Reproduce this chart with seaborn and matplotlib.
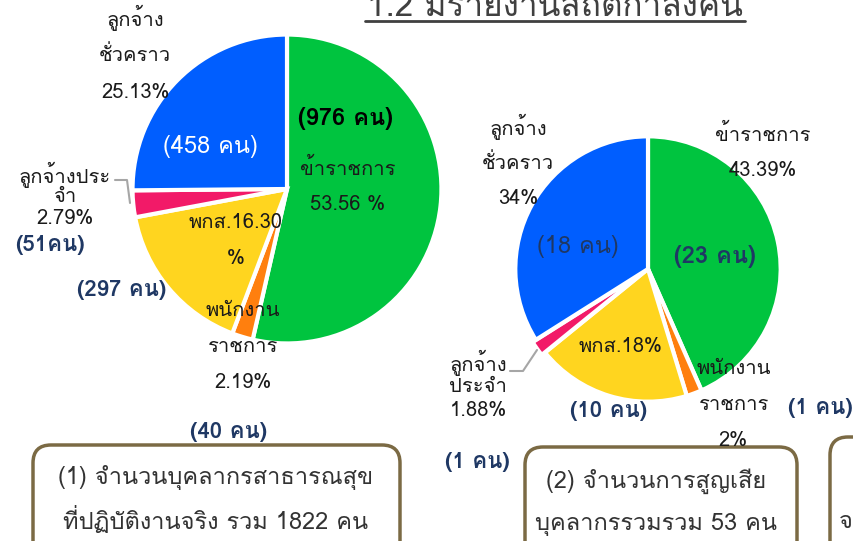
import matplotlib
matplotlib.use("Agg")
import matplotlib.pyplot as plt
import seaborn as sns
from matplotlib import font_manager
from matplotlib.ft2font import FT2Font
from matplotlib.patches import FancyBboxPatch

sns.set_theme(style="white")

# find a family that has Thai glyphs (if any)
thai_family = None
for f in font_manager.fontManager.ttflist:
    try:
        if 0x0E01 in FT2Font(f.fname).get_charmap():
            thai_family = f.name
            break
    except Exception:
        pass
fams = ([thai_family] if thai_family else []) + ["DejaVu Sans"]
plt.rcParams["font.family"] = fams

# data
categories = ["ข้าราชการ", "พนักงานราชการ", "พกส.", "ลูกจ้างประจำ", "ลูกจ้างชั่วคราว"]
colors = ["#00C43F", "#FF7F0E", "#FFD51F", "#F21A68", "#005EFF"]
staff_counts = [976, 40, 297, 51, 458]
staff_pct = ["53.56 %", "2.19%", "16.30", "2.79%", "25.13%"]
loss_counts = [23, 1, 10, 1, 18]
loss_pct = ["43.39%", "2%", "18%", "1.88%", "34%"]

W, H = 854, 541
fig = plt.figure(figsize=(W / 100, H / 100), dpi=100)

navy = "#1F3864"
txt = "#1A1A1A"


def rect_for(cx, cy, r):
    return [(cx - r) / W, 1 - (cy + r) / H, 2 * r / W, 2 * r / H]


def pie(cx, cy, r, counts, explode=None):
    a = fig.add_axes(rect_for(cx, cy, r))
    a.pie(counts, colors=colors, startangle=90, counterclock=False, explode=explode,
          wedgeprops=dict(edgecolor="white", linewidth=3))
    a.set_xlim(-1.01, 1.01)
    a.set_ylim(-1.01, 1.01)
    a.axis("off")
    return a


pie(287, 189, 156, staff_counts)
pie(648, 269, 134, loss_counts, explode=[0, 0, 0, 0.03, 0])

# overlay for texts and boxes (drawn on top)
ax = fig.add_axes([0, 0, 1, 1])
ax.set_xlim(0, W)
ax.set_ylim(H, 0)
ax.axis("off")
ax.patch.set_alpha(0)


def t(x, y, s, size=14.5, color=txt, weight="normal"):
    ax.text(x, y, s, ha="center", va="center", fontsize=size, color=color,
            fontweight=weight, zorder=10)


# title
t(555, 8, "1.2 มีรายงานสถิติกำลังคน", size=24, color="#404040")
ax.plot([365, 745], [21, 21], color="#404040", lw=2)

# pie 1 labels
t(135, 18, "ลูกจ้าง")
t(135, 55, "ชั่วคราว")
t(136, 92, staff_pct[4])
t(210, 147, f"({staff_counts[4]} คน)", size=17, color="white")
t(345, 118, f"({staff_counts[0]} คน)", size=17, color="black", weight="bold")
t(348, 168, categories[0])
t(348, 204, staff_pct[0])
t(65, 175, "ลูกจ้างประ")
t(65, 196, "จำ")
t(65, 219, staff_pct[3])
ax.plot([115, 127, 130], [180, 180, 203], color="#A6A6A6", lw=1.5)
t(50, 245, f"({staff_counts[3]}คน)", size=16, color=navy, weight="bold")
t(122, 290, f"({staff_counts[2]} คน)", size=16, color=navy, weight="bold")
t(236, 222, categories[2] + staff_pct[2])
t(236, 258, "%")
t(243, 310, "พนักงาน")
t(243, 346, "ราชการ")
t(243, 383, staff_pct[1])
t(229, 432, f"({staff_counts[1]} คน)", size=16, color=navy, weight="bold")

# pie 2 labels
t(518, 127, "ลูกจ้าง")
t(518, 163, "ชั่วคราว")
t(518, 198, loss_pct[4])
t(578, 247, f"({loss_counts[4]} คน)", size=17, color=navy)
t(763, 134, categories[0])
t(763, 170, loss_pct[0])
t(715, 257, f"({loss_counts[0]} คน)", size=17, color=navy, weight="bold")
t(620, 347, categories[2] + loss_pct[2])
t(609, 411, f"({loss_counts[2]} คน)", size=16, color=navy, weight="bold")
t(478, 363, "ลูกจ้าง")
t(478, 387, "ประจำ")
t(478, 411, loss_pct[3])
ax.plot([510, 523, 537], [371, 371, 350], color="#A6A6A6", lw=1.5)
t(734, 368, "พนักงาน")
t(734, 405, "ราชการ")
t(733, 440, loss_pct[1])
t(820, 408, f"({loss_counts[1]} คน)", size=16, color=navy, weight="bold")
t(477, 462, f"({loss_counts[3]} คน)", size=16, color=navy, weight="bold")

# boxes
box_color = "#7B6A44"
for x0, x1, y0 in [(33, 400, 445), (525, 797, 447), (830, 900, 437)]:
    ax.add_patch(FancyBboxPatch((x0, y0), x1 - x0, 140,
                                boxstyle="round,pad=0,rounding_size=18",
                                fc="white", ec=box_color, lw=2.5, zorder=5))
t(216, 478, "(1) จำนวนบุคลากรสาธารณสุข", size=17, color="#333333")
t(216, 520, f"ที่ปฏิบัติงานจริง รวม {sum(staff_counts)} คน", size=17, color="#333333")
t(656, 481, "(2) จำนวนการสูญเสีย", size=17, color="#333333")
t(656, 524, f"บุคลากรรวมรวม {sum(loss_counts)} คน", size=17, color="#333333")
t(846, 522, "จ", size=17, color="#333333")

fig.savefig("out.png", dpi=100)
